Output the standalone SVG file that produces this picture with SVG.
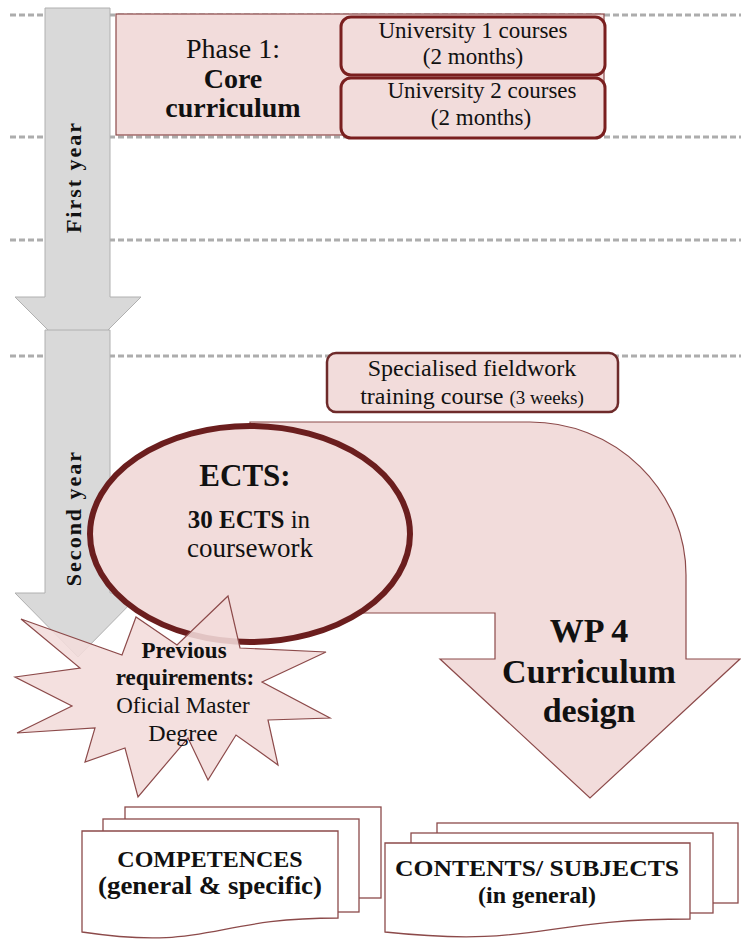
<svg xmlns="http://www.w3.org/2000/svg" width="741" height="942" viewBox="0 0 741 942">
<style>
.dash{stroke:#adadad;stroke-width:3;stroke-dasharray:6 3;fill:none}
.gray{fill:#d9d9d9;stroke:#b0b0b0;stroke-width:1}
.pink{fill:#f2dcdb;stroke:#8c4a4a;stroke-width:1.2}
.ubox{fill:#f2dcdb;stroke:#7a1f1f;stroke-width:3}
.page{fill:#ffffff;stroke:#8c4a4a;stroke-width:1.3}
text{font-family:"Liberation Serif","Times New Roman",serif;fill:#111;text-anchor:middle}
.b{font-weight:bold}
.vert{font-family:"Liberation Serif",serif;font-weight:bold;font-size:22px;letter-spacing:2px}
</style>
<rect width="741" height="942" fill="#ffffff"/>
<g id="gridlines">
<line class="dash" x1="10" y1="15" x2="741" y2="15"/>
<line class="dash" x1="10" y1="137" x2="741" y2="137"/>
<line class="dash" x1="10" y1="240" x2="741" y2="240"/>
<line class="dash" x1="10" y1="356" x2="741" y2="356"/>
</g>
<g id="first-year">
<path class="gray" d="M45,8 H110 V297 H141 L78,360 L15,297 H45 Z"/>
<text class="vert" transform="translate(81,177) rotate(-90)">First year</text>
</g>
<g id="second-year">
<path class="gray" d="M45,330 H110 V593 H141 L78,657 L15,593 H45 Z"/>
<text class="vert" transform="translate(81,518) rotate(-90)">Second year</text>
</g>
<g id="phase1">
<rect class="pink" x="116" y="14" width="488" height="121"/>
<text x="233" y="58" font-size="28">Phase 1:</text>
<text x="233" y="88" font-size="28" class="b">Core</text>
<text x="233" y="117" font-size="28" class="b">curriculum</text>
</g>
<g id="univ1">
<rect class="ubox" x="341" y="17" width="264" height="58" rx="10"/>
<text x="473" y="38" font-size="23">University 1 courses</text>
<text x="473" y="64" font-size="23">(2 months)</text>
</g>
<g id="univ2">
<rect class="ubox" x="341" y="78" width="264" height="60" rx="10"/>
<text x="482" y="98" font-size="23">University 2 courses</text>
<text x="481" y="125" font-size="23">(2 months)</text>
</g>
<g id="fieldwork">
<rect x="327" y="353" width="291" height="59" rx="9" fill="#f2dcdb" stroke="#6e2a2a" stroke-width="2.5"/>
<text x="472" y="376" font-size="24">Specialised fieldwork</text>
<text x="472" y="404" font-size="24">training course <tspan font-size="19">(3 weeks)</tspan></text>
</g>
<g id="connectors">
<path class="pink" d="M250,422 H530 A156,153 0 0 1 686,575 V659 H740 L590,798 L440,659 H495 V613 H250 Z"/>
</g>
<g id="wp4">
<text x="589" y="642" font-size="34" class="b">WP 4</text>
<text x="589" y="683" font-size="34" class="b">Curriculum</text>
<text x="589" y="722" font-size="34" class="b">design</text>
</g>
<g id="ects">
<ellipse cx="250" cy="534" rx="160" ry="108" fill="#f2dcdb" stroke="#6b1e1e" stroke-width="6"/>
<text x="245" y="486" font-size="31" class="b">ECTS:</text>
<text x="249" y="528" font-size="25"><tspan class="b">30 ECTS</tspan> in</text>
<text x="250" y="557" font-size="27">coursework</text>
</g>
<g id="requirements">
<polygon fill="#f2dcdb" fill-opacity="0.88" stroke="#8c4a4a" stroke-width="1.2" points="21,619 122,655 136,617 177,645 228,596 240,648 326,652 262,682 330,718 268,720 278,765 236,735 208,780 188,738 138,797 125,748 85,762 95,728 17,733 72,706 15,677 80,668"/>
<text x="184" y="658" font-size="23" class="b">Previous</text>
<text x="185" y="685" font-size="23" class="b">requirements:</text>
<text x="183" y="713" font-size="23">Oficial Master</text>
<text x="183" y="741" font-size="24">Degree</text>
</g>
<g id="competences">
<rect class="page" x="125" y="807" width="256" height="91"/>
<rect class="page" x="103" y="819" width="256" height="93"/>
<path class="page" d="M82,831 H338 V918 C210,918 210,951 82,932 Z"/>
<text x="210" y="867" font-size="24" class="b">COMPETENCES</text>
<text x="210" y="894" font-size="25" class="b" textLength="224" lengthAdjust="spacingAndGlyphs">(general &amp; specific)</text>
</g>
<g id="contents">
<rect class="page" x="437" y="823" width="301" height="80"/>
<rect class="page" x="411" y="833" width="302" height="80"/>
<path class="page" d="M385,843 H690 V919 C537,919 537,948 385,932 Z"/>
<text x="537" y="876" font-size="24" class="b" textLength="284" lengthAdjust="spacingAndGlyphs">CONTENTS/ SUBJECTS</text>
<text x="537" y="903" font-size="24" class="b">(in general)</text>
</g>
</svg>
